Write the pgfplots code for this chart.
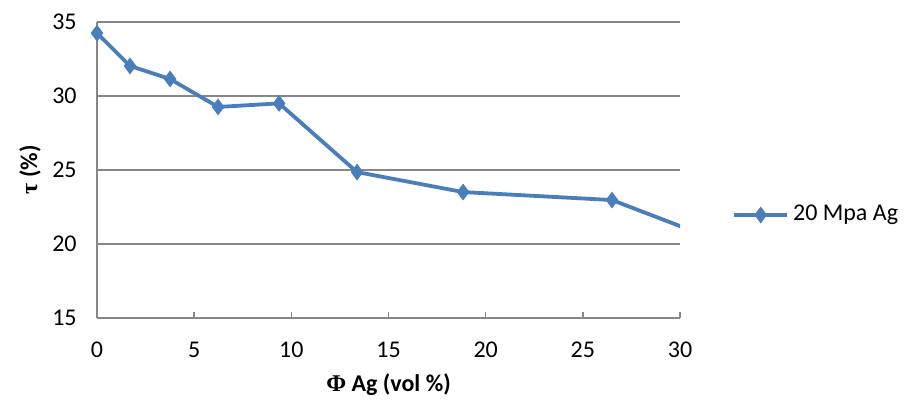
\documentclass[border=0pt]{standalone}
\usepackage{pgfplots}
\pgfplotsset{compat=1.18}
\usepackage{fontspec}
\setmainfont{Carlito}
\newfontfamily\serifb{Liberation Serif}
\definecolor{serblue}{HTML}{4A7EBB}
\definecolor{gridgray}{HTML}{878787}
\begin{document}
\fontsize{12}{14}\selectfont
\begin{tikzpicture}
\useasboundingbox (-48.5pt,-44.5pt) rectangle (406pt,159pt);
\begin{axis}[
  at={(0,0)}, anchor=south west,
  scale only axis, width=291.5pt, height=148pt,
  xmin=0, xmax=30, ymin=15, ymax=35,
  xtick={0,5,...,30}, ytick={15,20,...,35},
  axis x line=bottom, axis y line=left,
  axis line style={gridgray, line width=0.8pt, -},
  tick align=inside,
  major tick length=3pt,
  xtick style={gridgray, line width=0.8pt},
  ytick style={draw=none},
  ymajorgrids, grid style={gridgray, line width=0.8pt},
  /pgf/number format/assume math mode=true,
  tick label style={font=\fontsize{12}{14}\selectfont},
  xticklabel style={yshift=-8pt},
  yticklabel style={xshift=-6pt},
  xlabel={\textbf{{\serifb\bfseries Φ} Ag (vol \%)}},
  ylabel={\textbf{{\serifb\bfseries τ} (\%)}},
  xlabel style={at={(axis description cs:0.5,-0.226)}, anchor=center},
  ylabel style={at={(axis description cs:-0.115,0.5)}, anchor=center, rotate=0},
  legend style={at={(rel axis cs:1.089,0.348)}, anchor=west, draw=none, fill=none,
    font=\fontsize{12}{14}\selectfont, inner sep=0pt,
    /tikz/every even column/.append style={column sep=3pt}},
  legend cell align=left,
  clip=true,
]
\addplot[serblue, line width=1.9pt, mark=diamond*, mark size=3.8pt, mark options={fill=serblue, draw=serblue, line width=0.5pt},
  legend image code/.code={
    \draw[mark repeat=2, mark phase=2] plot coordinates {(0pt,0pt) (13.25pt,0pt) (26.5pt,0pt)};
  }]
coordinates {
(0,34.25) (1.7,32.03) (3.76,31.15) (6.23,29.26) (9.37,29.5) (13.38,24.86) (18.84,23.51) (26.5,22.97) (34.2,19.1)
};
\addlegendentry{20 Mpa Ag}
\end{axis}
\end{tikzpicture}
\end{document}
